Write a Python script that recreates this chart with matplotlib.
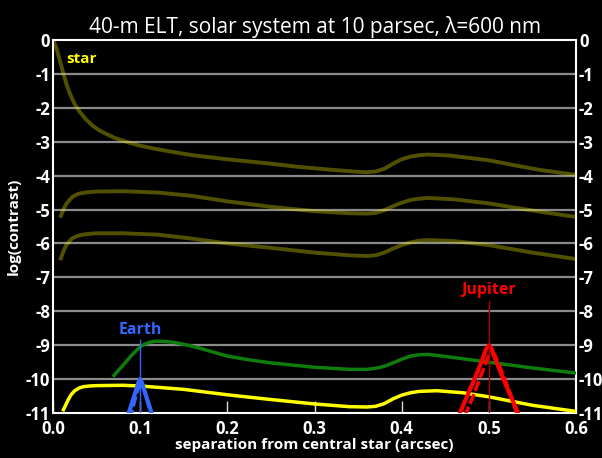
"""Contrast curves for a 40-m ELT looking at the solar system from 10 pc."""
import matplotlib.pyplot as plt

plt.rcParams["font.family"] = ["Open Sans", "DejaVu Sans"]
plt.rcParams["axes.unicode_minus"] = False

# star halo curves (sep in arcsec, log contrast)
star1_sep = [0.0, 0.004, 0.008, 0.012, 0.016, 0.02, 0.025, 0.03, 0.038, 0.045, 0.052,
             0.06, 0.07, 0.08, 0.09, 0.1, 0.115, 0.13, 0.16, 0.2, 0.25, 0.28, 0.32,
             0.35, 0.36, 0.37, 0.38, 0.39, 0.4, 0.41, 0.42, 0.43, 0.455, 0.5, 0.53,
             0.56, 0.6]
star1_val = [0.0, -0.25, -0.62, -1.0, -1.35, -1.62, -1.9, -2.1, -2.35, -2.52, -2.65,
             -2.76, -2.88, -2.97, -3.05, -3.12, -3.2, -3.27, -3.4, -3.52, -3.65, -3.74,
             -3.83, -3.89, -3.9, -3.88, -3.8, -3.65, -3.52, -3.44, -3.4, -3.38, -3.41,
             -3.55, -3.7, -3.84, -3.98]

star2_sep = [0.009, 0.012, 0.015, 0.019, 0.022, 0.027, 0.032, 0.04, 0.05, 0.08, 0.12,
             0.16, 0.2, 0.25, 0.3, 0.34, 0.36, 0.37, 0.38, 0.39, 0.4, 0.41, 0.42, 0.43,
             0.46, 0.5, 0.55, 0.6]
star2_val = [-5.19, -5.0, -4.85, -4.72, -4.63, -4.56, -4.52, -4.49, -4.47, -4.46, -4.5,
             -4.6, -4.76, -4.92, -5.05, -5.11, -5.12, -5.1, -5.02, -4.9, -4.8, -4.72,
             -4.68, -4.66, -4.7, -4.82, -5.03, -5.22]

star3_sep = star2_sep
star3_val = [-6.44, -6.23, -6.06, -5.93, -5.85, -5.79, -5.75, -5.72, -5.7, -5.7, -5.74,
             -5.86, -6.0, -6.13, -6.27, -6.35, -6.37, -6.35, -6.27, -6.15, -6.05, -5.97,
             -5.92, -5.9, -5.93, -6.05, -6.27, -6.46]

# residual halo after correction
green_sep = [0.07, 0.075, 0.08, 0.085, 0.09, 0.095, 0.1, 0.105, 0.11, 0.115, 0.12, 0.13,
             0.14, 0.155, 0.17, 0.185, 0.2, 0.225, 0.25, 0.3, 0.34, 0.36, 0.37, 0.38,
             0.39, 0.4, 0.41, 0.42, 0.43, 0.45, 0.5, 0.55, 0.6]
green_val = [-9.89, -9.74, -9.6, -9.45, -9.3, -9.17, -9.05, -8.97, -8.92, -8.89, -8.88,
             -8.89, -8.92, -9.0, -9.1, -9.21, -9.32, -9.43, -9.52, -9.65, -9.71, -9.71,
             -9.68, -9.62, -9.52, -9.41, -9.32, -9.28, -9.27, -9.33, -9.5, -9.67, -9.82]

yellow_sep = [0.012, 0.015, 0.018, 0.021, 0.025, 0.03, 0.035, 0.042, 0.05, 0.08, 0.1,
              0.15, 0.2, 0.25, 0.3, 0.34, 0.36, 0.37, 0.38, 0.39, 0.4, 0.41, 0.42, 0.44,
              0.47, 0.5, 0.55, 0.6]
yellow_val = [-10.9, -10.74, -10.58, -10.45, -10.34, -10.26, -10.22, -10.2, -10.19,
              -10.18, -10.2, -10.3, -10.46, -10.6, -10.73, -10.81, -10.82, -10.8, -10.72,
              -10.58, -10.47, -10.4, -10.36, -10.34, -10.4, -10.52, -10.77, -10.95]

# planet peaks
earth_sep = [0.083, 0.09, 0.095, 0.098, 0.1, 0.102, 0.105, 0.11, 0.117]
earth_val = [-11.3, -10.75, -10.35, -10.1, -10.0, -10.1, -10.35, -10.75, -11.3]
earth2_sep = [0.088, 0.094, 0.098, 0.101, 0.104, 0.108, 0.114]
earth2_val = [-11.2, -10.6, -10.25, -10.1, -10.25, -10.6, -11.2]

jup_sep = [0.465, 0.475, 0.485, 0.492, 0.497, 0.5, 0.503, 0.508, 0.515, 0.525, 0.535]
jup_val = [-11.1, -10.5, -9.9, -9.45, -9.1, -9.0, -9.1, -9.45, -9.9, -10.5, -11.1]
jup2_sep = [0.472, 0.482, 0.49, 0.496, 0.5, 0.503, 0.507, 0.512, 0.519, 0.527, 0.533]
jup2_val = [-11.1, -10.5, -9.95, -9.55, -9.3, -9.22, -9.3, -9.6, -10.05, -10.6, -11.1]

yticks = list(range(0, -12, -1))
xticks = [0.0, 0.1, 0.2, 0.3, 0.4, 0.5, 0.6]

fig = plt.figure(figsize=(6.02, 4.58), dpi=100, facecolor="black")
ax = fig.add_axes([0.088, 0.098, 0.869, 0.815])
ax.set_facecolor("black")
ax.set_xlim(0, 0.6)
ax.set_ylim(-11, 0)

for y in yticks[1:-1]:
    ax.axhline(y, color="#8a8a8a", lw=1.6, zorder=1)

olive = dict(color="#e8e600", alpha=0.35, lw=2.8, zorder=2, solid_joinstyle="round")
ax.plot(star1_sep, star1_val, **olive)
ax.plot(star2_sep, star2_val, **olive)
ax.plot(star3_sep, star3_val, **olive)

ax.plot(green_sep, green_val, color="#0e7d0e", lw=2.5, zorder=3)
ax.plot(yellow_sep, yellow_val, color="#ffff00", lw=2.5, zorder=3)

ax.plot(earth_sep, earth_val, color="#3366ff", lw=3, zorder=4)
ax.plot(earth2_sep, earth2_val, color="#3366ff", lw=2.5, ls=(0, (3, 1)), zorder=4)
ax.plot([0.1, 0.1], [-11, -8.85], color="#3366ff", lw=1, zorder=5)

ax.plot(jup_sep, jup_val, color="#ff0000", lw=3, zorder=4)
ax.plot(jup2_sep, jup2_val, color="#ff0000", lw=2.5, ls=(0, (3, 1)), zorder=4)
ax.plot([0.5, 0.5], [-11, -7.7], color="#b00000", lw=1, zorder=5)

ax.text(0.5, -7.6, "Jupiter", color="#ff0000", fontsize=11.5, fontweight="bold",
        ha="center", va="bottom")
ax.text(0.1, -8.8, "Earth", color="#3366ff", fontsize=11.5, fontweight="bold",
        ha="center", va="bottom")
ax.text(0.015, -0.55, "star", color="#ffff00", fontsize=11, fontweight="bold",
        ha="left", va="center")

for s in ax.spines.values():
    s.set_color("white")
    s.set_linewidth(1.5)

ax.set_xticks(xticks)
ax.set_xticklabels([f"{x:.1f}" for x in xticks])
ax.set_yticks(yticks)
ax.tick_params(axis="x", direction="in", length=9, width=1, color="#dddddd",
               labelcolor="white", labelsize=12, pad=5)
ax.tick_params(axis="y", length=0, labelcolor="white", labelsize=12, pad=2,
               right=True, labelright=True)
for lab in ax.get_xticklabels() + ax.get_yticklabels():
    lab.set_fontweight("bold")

ax.set_xlabel("separation from central star (arcsec)", color="white", fontsize=11,
              fontweight="bold", labelpad=0)
ax.set_ylabel("log(contrast)", color="white", fontsize=11, fontweight="bold",
              labelpad=4)
ax.set_title("40-m ELT, solar system at 10 parsec, λ=600 nm", color="white",
             fontsize=15, pad=5)

fig.savefig("out.png", dpi=100, facecolor="black")
